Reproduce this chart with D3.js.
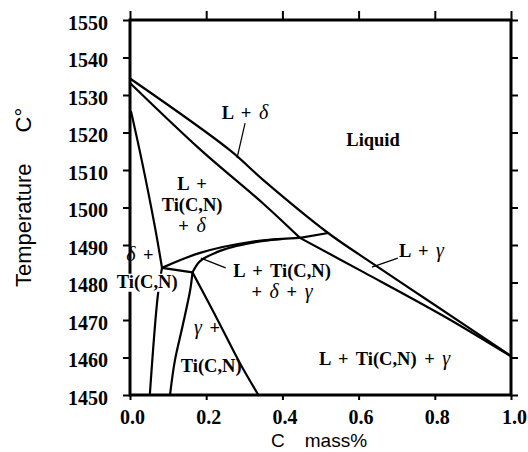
<!DOCTYPE html>
<html>
<head>
<meta charset="utf-8">
<script src="https://cdn.jsdelivr.net/npm/d3@7"></script>
<style>
  html, body { margin: 0; padding: 0; background: #fff; }
  svg { display: block; }
  .tick text { font-family: "Liberation Serif", "Times New Roman", serif; font-weight: bold; font-size: 20px; fill: #000; }
  .tick line { stroke: #000; stroke-width: 2; }
  .region { font-family: "Liberation Serif", "Times New Roman", serif; font-weight: bold; font-size: 18.5px; fill: #000; word-spacing: 3px; }
  .title { font-family: "Liberation Sans", Arial, sans-serif; fill: #000; }
</style>
</head>
<body>
<svg id="chart" width="528" height="452"></svg>
<script>
// Fe–C–Ti–N vertical section: temperature (°C) against carbon content (mass%)
const xTicks = [0.0, 0.2, 0.4, 0.6, 0.8, 1.0];
const yTicks = [1450, 1460, 1470, 1480, 1490, 1500, 1510, 1520, 1530, 1540, 1550];

// Phase boundaries, each as [C mass%, temperature °C]
const liquidusUpper   = [[0, 1534.4], [0.262, 1515.3], [0.35, 1507.3], [0.52, 1493.2], [0.604, 1487.3], [0.8, 1474.0], [1.0, 1460.4]];
const deltaLower      = [[0, 1533.2], [0.184, 1515.5], [0.35, 1501.0], [0.446, 1491.9]];
const gammaLower      = [[0.446, 1491.9], [0.614, 1482.7], [0.824, 1471.0], [1.0, 1460.3]];
const ferriteUpper    = [[0.003, 1525.5], [0.031, 1512.5], [0.066, 1494.5], [0.084, 1483.9]];
const ferriteLower    = [[0.084, 1483.9], [0.073, 1476.5], [0.052, 1450]];
const eutecticTie     = [[0.084, 1483.9], [0.164, 1482.7]];
const gammaLeft       = [[0.164, 1482.7], [0.158, 1478.0], [0.138, 1468.4], [0.118, 1459.3], [0.105, 1450]];
const gammaRight      = [[0.164, 1482.7], [0.225, 1471.0], [0.289, 1458.4], [0.337, 1450]];
const lensUpper       = [[0.084, 1483.9], [0.184, 1487.9], [0.315, 1490.8], [0.446, 1491.9]];
const lensLower       = [[0.164, 1482.7], [0.184, 1485.7], [0.228, 1488.1], [0.27, 1489.5], [0.315, 1490.5], [0.367, 1491.3], [0.40, 1491.6]];
const peritecticTie   = [[0.446, 1491.9], [0.52, 1493.2]];

// Region labels: lines of text, anchor point [C, T] for the first baseline
const regionLabels = [
  { lines: ["L + δ"], at: [0.241, 1523.6], anchor: "start" },
  { lines: ["Liquid"], at: [0.638, 1516.5], anchor: "middle" },
  { lines: ["L +", "Ti(C,N)", "+ δ"], at: [0.163, 1504.8], anchor: "middle" },
  { lines: ["δ +"], at: [0.026, 1485.8], anchor: "middle" },
  { lines: ["Ti(C,N)"], at: [0.045, 1478.6], anchor: "middle", boxed: true },
  { lines: ["L + Ti(C,N)", "+ δ + γ"], at: [0.399, 1481.6], anchor: "middle" },
  { lines: ["L + γ"], at: [0.706, 1486.8], anchor: "start" },
  { lines: ["γ +"], at: [0.202, 1466.4], anchor: "middle" },
  { lines: ["Ti(C,N)"], at: [0.213, 1456.1], anchor: "middle" },
  { lines: ["L + Ti(C,N) + γ"], at: [0.496, 1458.1], anchor: "start" }
];

// Leader lines from labels to narrow regions
const pointers = [
  [[0.302, 1522.5], [0.281, 1513.2]],
  [[0.251, 1483.9], [0.186, 1486.5]],
  [[0.703, 1486.5], [0.635, 1484.1]]
];

const svg = d3.select("#chart");
const margin = { left: 130, top: 20, right: 17, bottom: 57 };
const W = 528, H = 452;

const x = d3.scaleLinear().domain([0, 1]).range([margin.left, W - margin.right]);
const y = d3.scaleLinear().domain([1450, 1550]).range([H - margin.bottom, margin.top]);

const line = d3.line().x(d => x(d[0])).y(d => y(d[1])).curve(d3.curveCatmullRom.alpha(0.5));

// Axes with outward ticks on all four sides
const gL = svg.append("g").attr("transform", `translate(${x(0)},0)`)
  .call(d3.axisLeft(y).tickValues(yTicks).tickFormat(d3.format("d")).tickSize(7).tickPadding(15));
gL.selectAll(".tick text").attr("dy", "0.45em");

const gB = svg.append("g").attr("transform", `translate(0,${y(1450)})`)
  .call(d3.axisBottom(x).tickValues(xTicks).tickFormat(d3.format(".1f")).tickSize(5).tickPadding(10));
gB.selectAll(".tick text").attr("dx", (d) => d === 1 ? 3 : 2);

svg.append("g").attr("transform", `translate(${x(1)},0)`)
  .call(d3.axisRight(y).tickValues(yTicks).tickSize(7).tickFormat(""));
svg.append("g").attr("transform", `translate(0,${y(1550)})`)
  .call(d3.axisTop(x).tickValues(xTicks).tickSize(9).tickFormat(""));

svg.selectAll(".domain").remove();

// Phase boundary lines
const boundaries = [liquidusUpper, deltaLower, gammaLower, ferriteUpper, ferriteLower,
  eutecticTie, gammaLeft, gammaRight, lensUpper, lensLower, peritecticTie];
svg.append("g").selectAll("path").data(boundaries).join("path")
  .attr("d", line)
  .attr("fill", "none")
  .attr("stroke", "#000")
  .attr("stroke-width", 2.2)
  .attr("stroke-linejoin", "round")
  .attr("stroke-linecap", "round");

svg.append("g").selectAll("line").data(pointers).join("line")
  .attr("x1", d => x(d[0][0])).attr("y1", d => y(d[0][1]))
  .attr("x2", d => x(d[1][0])).attr("y2", d => y(d[1][1]))
  .attr("stroke", "#000").attr("stroke-width", 1.2);

// Frame
svg.append("rect")
  .attr("x", x(0)).attr("y", y(1550))
  .attr("width", x(1) - x(0)).attr("height", y(1450) - y(1550))
  .attr("fill", "none").attr("stroke", "#000").attr("stroke-width", 3);

// Region labels, Greek letters set in italic
function addText(sel, str) {
  str.split(/([δγ])/).filter(s => s.length).forEach(part => {
    const t = sel.append("tspan").text(part);
    if (part === "δ" || part === "γ") t.attr("font-style", "italic").attr("font-weight", "normal").attr("font-size", "20px");
  });
}

const lineGap = 21;
const labelG = svg.append("g");
regionLabels.forEach(lb => {
  lb.lines.forEach((s, i) => {
    const tx = x(lb.at[0]), ty = y(lb.at[1]) + i * lineGap;
    const t = labelG.append("text").attr("class", "region")
      .attr("x", tx).attr("y", ty).attr("text-anchor", lb.anchor);
    addText(t, s);
    if (lb.boxed) {
      const bb = t.node().getBBox();
      labelG.insert("rect", () => t.node())
        .attr("x", bb.x - 1).attr("y", bb.y + 2)
        .attr("width", bb.width + 2).attr("height", bb.height - 3)
        .attr("fill", "#fff");
    }
  });
});

// Axis titles
const yt = svg.append("text").attr("class", "title")
  .attr("transform", "translate(31,287) rotate(-90)")
  .attr("font-size", "22px");
yt.append("tspan").text("Temperature");
yt.append("tspan").attr("dx", 31).text("C°");

const xt = svg.append("text").attr("class", "title")
  .attr("x", 271).attr("y", 447).attr("font-size", "19px");
xt.append("tspan").text("C");
xt.append("tspan").attr("dx", 20).text("mass%");
</script>
</body>
</html>
